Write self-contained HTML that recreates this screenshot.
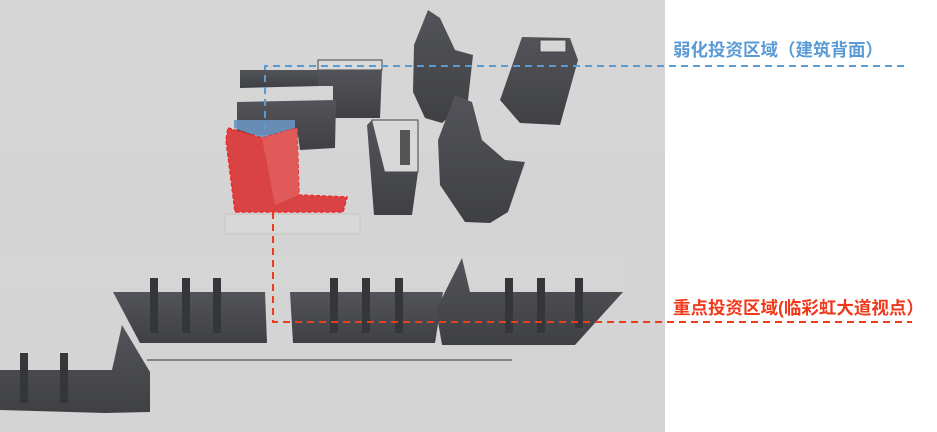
<!DOCTYPE html>
<html><head><meta charset="utf-8"><style>
html,body{margin:0;padding:0;background:#fff;}
svg{display:block;}
text{font-family:"Liberation Sans","Noto Sans CJK SC",sans-serif;font-weight:bold;}
</style></head><body>
<svg width="937" height="432" viewBox="0 0 937 432" xmlns="http://www.w3.org/2000/svg">
<defs>
<linearGradient id="g" x1="0" y1="0" x2="0" y2="1"><stop offset="0" stop-color="#535459"/><stop offset="1" stop-color="#3f4044"/></linearGradient>
</defs>
<rect x="0" y="0" width="665" height="432" fill="#d4d4d4"/>
<rect x="0" y="0" width="665" height="150" fill="#d6d6d6"/>
<!-- ground pads -->
<rect x="225" y="214" width="135" height="20" fill="#d8d8d8" stroke="#c6c6c6"/>
<path d="M147 360 L512 360" stroke="#666" stroke-width="1.5"/>
<rect x="0" y="256" width="625" height="30" fill="#d6d6d6"/>
<!-- top-left low wall -->
<polygon points="240,70 320,70 320,86 240,88" fill="url(#g)"/>
<!-- building top-left -->
<rect x="318" y="60" width="64" height="10" fill="#dadada" stroke="#444"/>
<polygon points="318,70 382,70 380,118 333,118 333,86 318,86" fill="url(#g)"/>
<!-- second row -->
<polygon points="237,102 336,100 335,148 300,150 298,135 237,135" fill="url(#g)"/>
<!-- middle building -->
<polygon points="372,120 418,120 418,172 372,172" fill="#d8d8d8" stroke="#444"/>
<polygon points="367,125 372,120 385,172 418,172 412,215 374,215" fill="url(#g)"/>
<rect x="400" y="130" width="10" height="35" fill="#555"/>
<!-- tall tilted row -->
<polygon points="428,10 440,18 455,50 473,55 468,100 442,123 425,118 413,92 414,45" fill="url(#g)"/>
<!-- long diagonal row -->
<polygon points="455,95 472,102 482,140 505,160 525,162 508,212 490,223 465,222 440,185 438,140" fill="url(#g)"/>
<!-- right building -->
<polygon points="522,37 570,38 578,60 560,125 520,123 500,100" fill="url(#g)"/>
<rect x="540" y="40" width="26" height="12" fill="#d6d6d6" stroke="#444"/>
<!-- red building -->
<polygon points="234,120 295,120 295,130 262,138 234,128" fill="#6a95c2" opacity="0.9"/>
<polygon points="228,128 262,138 297,128 299,195 347,197 343,212 235,212 226,140" fill="#d94343" stroke="#ee2a2a" stroke-width="1.5" stroke-dasharray="4 2"/>
<polygon points="262,138 297,128 299,195 275,205" fill="#e05a5a"/>
<!-- bottom rows -->
<polygon points="113,292 265,292 267,343 140,343" fill="url(#g)"/>
<rect x="150" y="278" width="8" height="55" fill="#35363a"/><rect x="182" y="278" width="8" height="55" fill="#35363a"/><rect x="213" y="278" width="8" height="55" fill="#35363a"/>
<polygon points="290,292 443,292 435,343 293,343" fill="url(#g)"/>
<rect x="330" y="278" width="8" height="55" fill="#35363a"/><rect x="362" y="278" width="8" height="55" fill="#35363a"/><rect x="395" y="278" width="8" height="55" fill="#35363a"/>
<polygon points="462,258 470,292 623,292 575,345 442,345 436,310" fill="url(#g)"/>
<rect x="505" y="278" width="8" height="55" fill="#35363a"/><rect x="537" y="278" width="8" height="55" fill="#35363a"/><rect x="575" y="278" width="8" height="50" fill="#35363a"/>
<polygon points="0,370 112,370 122,325 150,372 150,412 105,413 0,410" fill="url(#g)"/>
<rect x="20" y="353" width="8" height="50" fill="#35363a"/><rect x="60" y="353" width="8" height="50" fill="#35363a"/>
<!-- connectors -->
<path d="M265 130 L265 66 L907 66" fill="none" stroke="#5b9bd5" stroke-width="2" stroke-dasharray="7 5"/>
<path d="M273 212 L273 322 L912 322" fill="none" stroke="#ee3d1a" stroke-width="2" stroke-dasharray="7 5"/>
<text x="673" y="56" font-size="17.5" fill="#5b9bd5">弱化投资区域（建筑背面）</text>
<text x="673" y="314" font-size="17.5" fill="#f0381a">重点投资区域(临彩虹大道视点）</text>
</svg>
</body></html>
